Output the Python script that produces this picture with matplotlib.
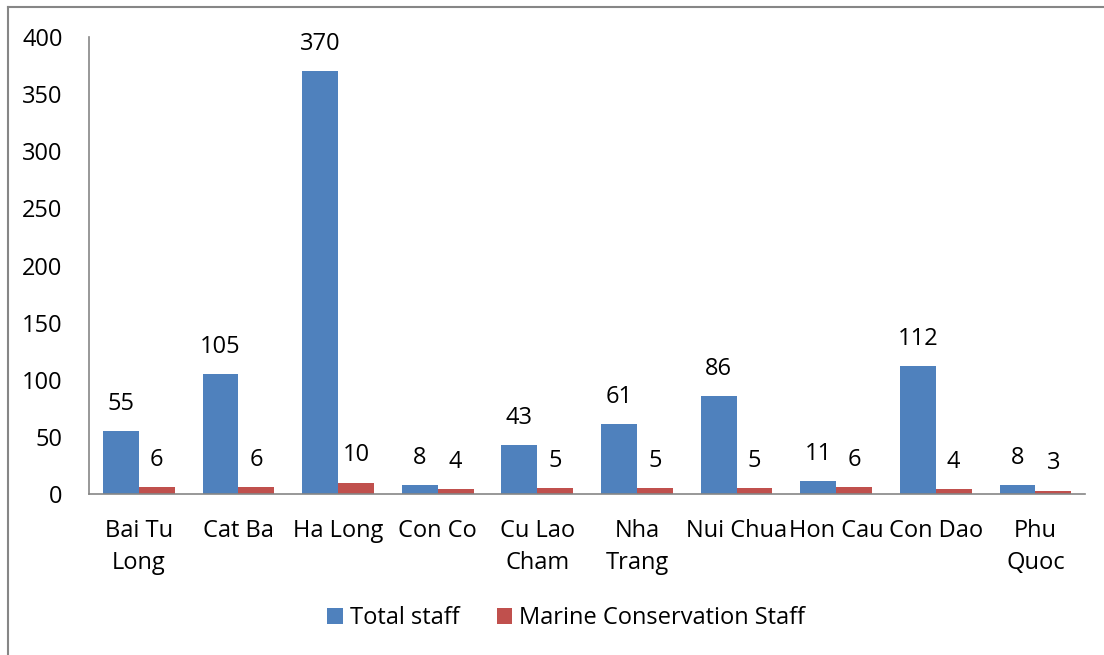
import numpy as np
import matplotlib.pyplot as plt
from matplotlib.lines import Line2D

plt.rcParams['font.family'] = ['Open Sans', 'DejaVu Sans']

sites = ['Bai Tu\nLong', 'Cat Ba', 'Ha Long', 'Con Co', 'Cu Lao\nCham',
         'Nha\nTrang', 'Nui Chua', 'Hon Cau', 'Con Dao', 'Phu\nQuoc']
total_staff = [55, 105, 370, 8, 43, 61, 86, 11, 112, 8]
marine_staff = [6, 6, 10, 4, 5, 5, 5, 6, 4, 3]

blue = '#4F81BD'
red = '#C0504D'
grey = '#868686'
fs = 17

fig = plt.figure(figsize=(11.04, 6.55), dpi=100)
ax = fig.add_axes([0.0806, 0.2458, 0.9024, 0.6977])

x = np.arange(len(sites))
w = 0.36
b1 = ax.bar(x - w / 2, total_staff, w, color=blue, label='Total staff')
b2 = ax.bar(x + w / 2, marine_staff, w, color=red, label='Marine Conservation Staff')

for bars, vals in [(b1, total_staff), (b2, marine_staff)]:
    for r, v in zip(bars, vals):
        ax.annotate(str(v), (r.get_x() + r.get_width() / 2, v),
                    xytext=(0, 19.5), textcoords='offset points',
                    ha='center', va='center', fontsize=fs)

ax.set_xlim(-0.5, len(sites) - 0.5)
ax.set_ylim(0, 400)
ax.set_yticks(range(0, 401, 50))
ax.set_xticks(x)
ax.set_xticklabels(sites, linespacing=1.45)
ax.tick_params(axis='both', length=0, labelsize=fs)
ax.tick_params(axis='y', pad=19)
ax.tick_params(axis='x', pad=18)

for s in ['top', 'right']:
    ax.spines[s].set_visible(False)
for s in ['left', 'bottom']:
    ax.spines[s].set_color(grey)
    ax.spines[s].set_linewidth(1.2)

fig.legend(handles=[b1, b2], loc='center', bbox_to_anchor=(0.513, 0.056),
           ncol=2, frameon=False, fontsize=fs, handlelength=0.65,
           handleheight=0.65, handletextpad=0.3, columnspacing=1.6)

# outer chart border (only left and top visible in the crop)
fig.add_artist(Line2D([0.0068, 0.0068], [0, 0.9893], color=grey, lw=1.5))
fig.add_artist(Line2D([0.0068, 1], [0.9893, 0.9893], color=grey, lw=1.5))

fig.savefig('out.png', dpi=100)
